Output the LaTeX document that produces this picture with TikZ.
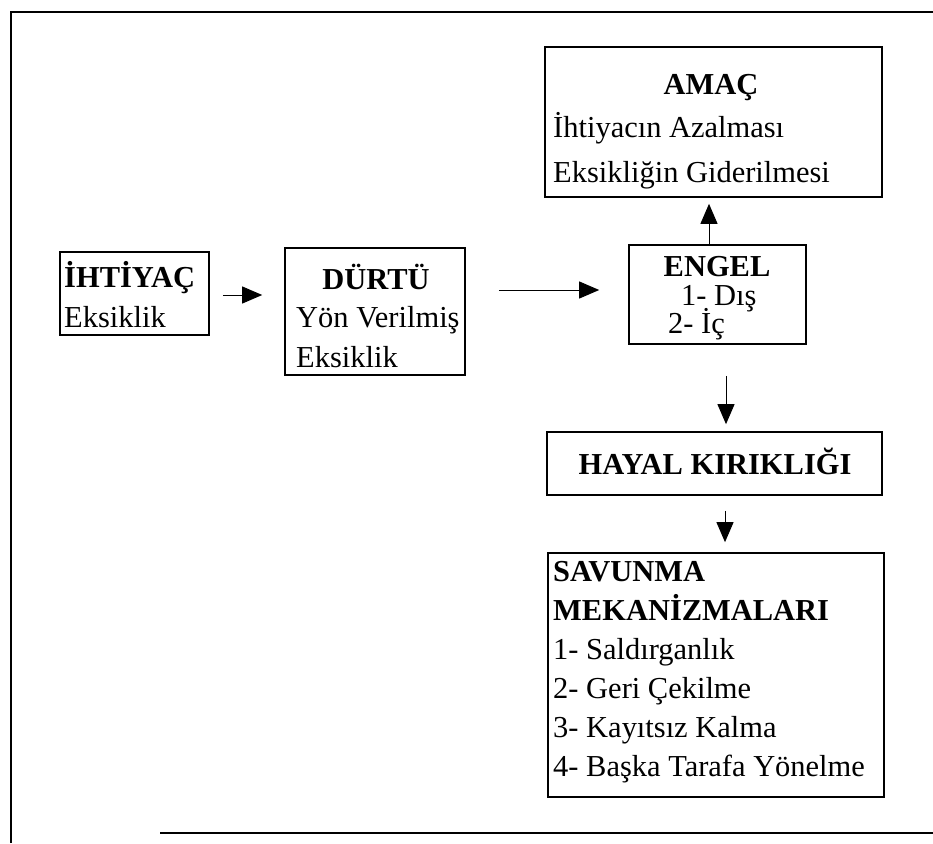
\documentclass[tikz,border=0pt]{standalone}
\usepackage{fontspec}
\setmainfont{Liberation Serif}
\usepackage{tikz}
\usetikzlibrary{arrows.meta, positioning}

\newdimen\pxu
\pxu=0.03cm

\begin{document}
\begin{tikzpicture}[
    x=0.03cm, y=-0.03cm,
    box/.style={
        rectangle,
        draw=black,
        line width=1.4pt
    },
    txt/.style={
        inner sep=0pt,
        font=\fontsize{26}{31}\selectfont
    },
    title/.style={
        txt,
        font=\fontsize{26}{31}\selectfont\bfseries
    },
    link/.style={line width=0.8pt, -{Triangle[length=0.6cm, width=0.51cm]}},
    frame/.style={line width=1.4pt}
]

\useasboundingbox (0,0) rectangle (933,843);

% outer frame
\coordinate (fbl) at (11,843);
\coordinate (ftl) at (11,12);
\coordinate (ftr) at (933,12);
\coordinate (fb1) at (160,833);
\coordinate (fb2) at (933,833);
\draw[frame] (fbl) -- (ftl) -- (ftr);
\draw[frame] (fb1) -- (fb2);

% ihtiyac
\node[box, minimum width=149\pxu, minimum height=83\pxu] (ihtiyac) at (134.5,293.5) {};
\node[title, anchor=base west] (ihtiyac1) at (64,287) {İHTİYAÇ};
\node[txt, anchor=base west] (ihtiyac2) at (64,327) {Eksiklik};

% durtu
\node[box, minimum width=180\pxu, minimum height=127\pxu] (durtu) at (375,311.5) {};
\node[title, anchor=base] (durtu1) at (376,289) {DÜRTÜ};
\node[txt, anchor=base west] (durtu2) at (296,327) {Yön Verilmiş};
\node[txt, anchor=base west] (durtu3) at (296,367) {Eksiklik};

% engel
\node[box, minimum width=177\pxu, minimum height=99\pxu] (engel) at (717.5,294.5) {};
\node[title, anchor=base] (engel1) at (717,276) {ENGEL};
\node[txt, anchor=base west] (engel2) at (681,305) {1- Dış};
\node[txt, anchor=base west] (engel3) at (668,333) {2- İç};

% amac
\node[box, minimum width=337\pxu, minimum height=150\pxu] (amac) at (713.5,122) {};
\node[title, anchor=base] (amac1) at (711,94) {AMAÇ};
\node[txt, anchor=base west] (amac2) at (553,137) {İhtiyacın Azalması};
\node[txt, anchor=base west] (amac3) at (553,182) {Eksikliğin Giderilmesi};

% hayal kirikligi
\node[box, minimum width=335\pxu, minimum height=63\pxu] (hayal) at (714.5,463.5) {};
\node[title, anchor=base] (hayal1) at (715,474) {HAYAL KIRIKLIĞI};

% savunma
\node[box, minimum width=336\pxu, minimum height=244\pxu] (savunma) at (716,675) {};
\node[title, anchor=base west] (savunma1) at (553,581) {SAVUNMA};
\node[title, anchor=base west] (savunma2) at (553,620) {MEKANİZMALARI};
\node[txt, anchor=base west] (savunma3) at (553,659) {1- Saldırganlık};
\node[txt, anchor=base west] (savunma4) at (553,698) {2- Geri Çekilme};
\node[txt, anchor=base west] (savunma5) at (553,737) {3- Kayıtsız Kalma};
\node[txt, anchor=base west] (savunma6) at (553,776) {4- Başka Tarafa Yönelme};

% arrows
\draw[link, shorten <=0.39cm, shorten >=0.66cm]
    ([yshift=-0.045cm]ihtiyac.east) -- ([yshift=-0.045cm]ihtiyac.east -| durtu.west);
\draw[link, shorten <=0.99cm, shorten >=0.87cm]
    ([yshift=0.135cm]durtu.east |- engel.west) -- ([yshift=0.135cm]engel.west);
\draw[link, shorten >=0.18cm]
    ([xshift=-0.255cm]engel.north) -- ([xshift=-0.255cm]engel.north |- amac.south);
\draw[link, shorten <=0.93cm, shorten >=0.21cm]
    ([xshift=0.255cm]engel.south) -- ([xshift=0.255cm]engel.south |- hayal.north);
\draw[link, shorten <=0.45cm, shorten >=0.3cm]
    ([xshift=0.315cm]hayal.south) -- ([xshift=0.315cm]hayal.south |- savunma.north);

\end{tikzpicture}
\end{document}
